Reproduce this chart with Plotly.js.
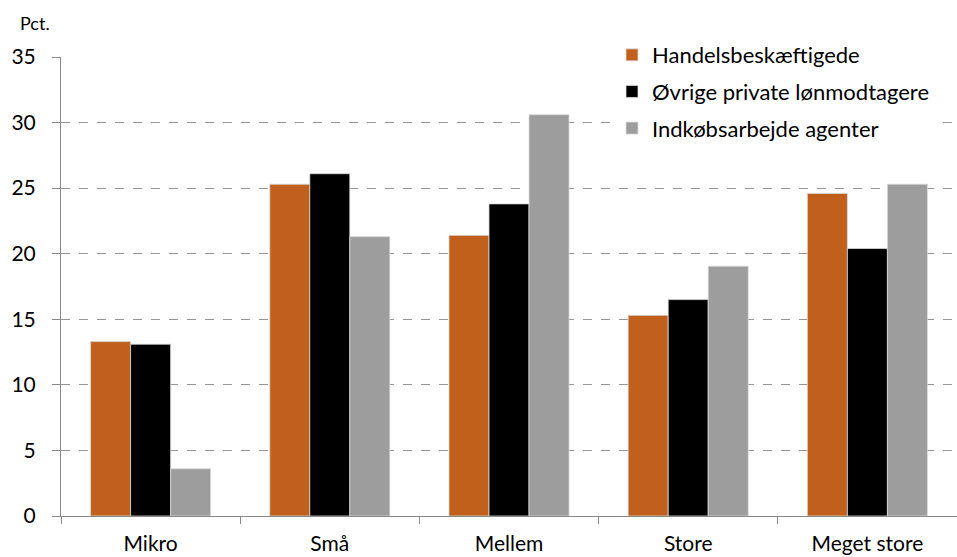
<!DOCTYPE html>
<html>
<head>
<meta charset="utf-8">
<script src="https://cdn.plot.ly/plotly-3.0.1.min.js"></script>
<style>html,body{margin:0;padding:0;background:#fff;}#chart{width:957px;height:557px;}</style>
</head>
<body>
<div id="chart"></div>
<script>
const categories = ["Mikro", "Små", "Mellem", "Store", "Meget store"];
const seriesNames = ["Handelsbeskæftigede", "Øvrige private lønmodtagere", "Indkøbsarbejde agenter"];
const handels = [13.3, 25.3, 21.4, 15.3, 24.6];
const oevrige = [13.1, 26.1, 23.8, 16.5, 20.4];
const indkoeb = [3.6, 21.3, 30.6, 19.05, 25.3];
const yTicks = [0, 5, 10, 15, 20, 25, 30, 35];

const colors = ["#C0601C", "#000000", "#9D9D9D"];
const values = [handels, oevrige, indkoeb];
const FONT = "Lato, Open Sans, sans-serif";
const FS = 21;

const traces = values.map((v, i) => ({
  type: "bar",
  name: seriesNames[i],
  x: categories,
  y: v,
  legendgroup: "g" + i,
  marker: {color: colors[i], line: {color: "#d9d9d9", width: 0.8}},
  hoverinfo: "x+y+name"
}));

const layout = {
  width: 957, height: 557,
  margin: {l: 61, r: 0, t: 57, b: 41},
  paper_bgcolor: "#fff", plot_bgcolor: "#fff",
  font: {family: FONT, size: FS, color: "#000"},
  barmode: "group",
  bargap: 0.33,
  bargroupgap: 0,
  showlegend: true,
  legend: {
    x: (612 - 61) / 896, xanchor: "left", y: 1.05, yanchor: "top",
    bgcolor: "rgba(255,255,255,1)",
    font: {family: FONT, size: 22, color: "#000"},
    traceorder: "grouped", tracegroupgap: 5,
    itemwidth: 30
  },
  xaxis: {
    type: "category",
    showgrid: false,
    showline: true, linecolor: "#898989", linewidth: 1,
    ticks: "outside", tickson: "boundaries", ticklen: 7, tickcolor: "#898989",
    ticklabelstandoff: 9,
    tickfont: {family: FONT, size: FS, color: "#000"},
    zeroline: false
  },
  yaxis: {
    range: [0, 35],
    tickvals: yTicks,
    ticktext: yTicks.map(String),
    showgrid: true, gridcolor: "#969696", griddash: "dash", gridwidth: 1,
    showline: true, linecolor: "#898989", linewidth: 1,
    ticks: "outside", ticklen: 8, tickcolor: "#898989",
    ticklabelstandoff: 12,
    tickfont: {family: FONT, size: FS, color: "#000"},
    zeroline: false
  },
  annotations: [{
    text: "Pct.", xref: "paper", yref: "paper", x: (18 - 61) / 896, y: 1.0, yshift: 34,
    xanchor: "left", yanchor: "middle", showarrow: false,
    font: {family: FONT, size: 18, color: "#000"}
  }]
};

Plotly.newPlot("chart", traces, layout, {displayModeBar: false, staticPlot: true});
</script>
</body>
</html>
